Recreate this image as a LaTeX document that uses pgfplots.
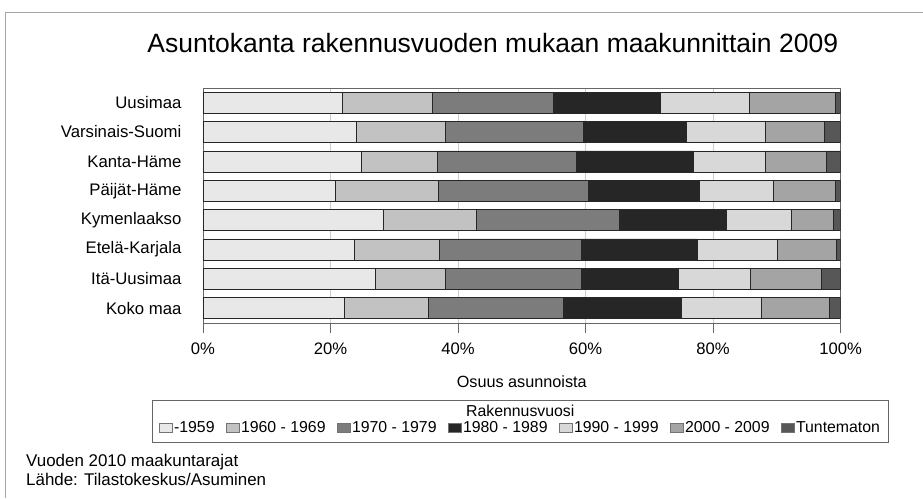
\documentclass[border=0pt]{standalone}
\usepackage{pgfplots}
\usepackage{pgfplotstable}
\pgfplotsset{compat=1.18}
\usepackage{fontspec}
\setmainfont{Liberation Sans}

\definecolor{cA}{HTML}{E8E8E8}
\definecolor{cB}{HTML}{C2C2C2}
\definecolor{cC}{HTML}{7C7C7C}
\definecolor{cD}{HTML}{262626}
\definecolor{cE}{HTML}{D8D8D8}
\definecolor{cF}{HTML}{A4A4A4}
\definecolor{cG}{HTML}{575757}

% share of dwellings (%) by construction year, per region
\pgfplotstableread{
idx a b c d e f g
0 21.9 14.1 19.0 16.7 13.9 13.6 0.8
1 24.1 13.9 21.7 16.1 12.3 9.4 2.5
2 24.9 11.9 21.8 18.3 11.2 9.7 2.2
3 20.7 16.2 23.6 17.4 11.5 9.8 0.8
4 28.3 14.5 22.5 16.8 10.2 6.6 1.1
5 23.7 13.3 22.4 18.1 12.5 9.3 0.7
6 27.0 11.0 21.4 15.2 11.3 11.1 3.0
7 22.1 13.2 21.2 18.5 12.5 10.7 1.8
}\datatable

\pgfplotsset{
  seg/.style={fill=#1, draw=black!85, line width=0.5pt,
    legend image code/.code={\draw[##1, draw=gray!90!black] (0bp,-4.5bp) rectangle (13bp,5bp);}},
}

\begin{document}
\begin{tikzpicture}
\begin{axis}[
  xbar stacked,
  scale only axis,
  width=638bp, height=235bp,
  bar width=21bp,
  xmin=0, xmax=100,
  ymin=-0.5, ymax=7.5,
  y dir=reverse,
  ytick={0,...,7},
  yticklabels={Uusimaa,Varsinais-Suomi,Kanta-Häme,Päijät-Häme,Kymenlaakso,Etelä-Karjala,Itä-Uusimaa,Koko maa},
  ytick style={draw=none},
  yticklabel style={font=\fontsize{16.8}{18}\selectfont, xshift=-8bp},
  xtick={0,20,40,60,80,100},
  xticklabels={0\%,20\%,40\%,60\%,80\%,100\%},
  xtick pos=bottom,
  tick align=outside,
  major tick length=10bp,
  xtick style={gray!80!black, line width=0.6pt},
  xticklabel style={font=\fontsize{16.7}{18}\selectfont, yshift=-7bp},
  xmajorgrids,
  grid style={gray!40, line width=0.5pt},
  axis line style={gray!80!black, line width=0.6pt},
  xlabel={Osuus asunnoista},
  xlabel style={font=\fontsize{16.3}{18}\selectfont, at={(axis description cs:0.5,-0.251)}, anchor=center},
  legend columns=-1,
  legend style={draw=none, fill=none, at={(axis description cs:0.4977,-0.447)}, anchor=center,
    font=\fontsize{15.9}{18}\selectfont,
    nodes={inner sep=1.5bp},
    /tikz/every even column/.append style={column sep=10bp}},
  /pgf/number format/assume math mode=true,
]
\addplot+[seg=cA] table[x=a, y=idx] {\datatable};
\addplot+[seg=cB] table[x=b, y=idx] {\datatable};
\addplot+[seg=cC] table[x=c, y=idx] {\datatable};
\addplot+[seg=cD] table[x=d, y=idx] {\datatable};
\addplot+[seg=cE] table[x=e, y=idx] {\datatable};
\addplot+[seg=cF] table[x=f, y=idx] {\datatable};
\addplot+[seg=cG] table[x=g, y=idx] {\datatable};
\legend{-1959,1960 - 1969,1970 - 1979,1980 - 1989,1990 - 1999,2000 - 2009,Tuntematon}
\end{axis}
% legend frame and title
\draw[gray!80!black, line width=0.6pt] (-51bp,-77bp) rectangle (686bp,-119bp);
\node[font=\fontsize{15.9}{18}\selectfont] at (317.5bp,-88bp) {Rakennusvuosi};
% title
\node[font=\fontsize{26.6}{30}\selectfont] at (290bp,280bp) {Asuntokanta rakennusvuoden mukaan maakunnittain 2009};
% footer
\node[anchor=west, inner sep=0pt, font=\fontsize{17}{18}\selectfont] at (-177bp,-139bp) {Vuoden 2010 maakuntarajat};
\node[anchor=west, inner sep=0pt, font=\fontsize{17}{18}\selectfont] at (-177bp,-157bp) {Lähde: Tilastokeskus/Asuminen};
% outer frame (partly cut)
\draw[gray!70, line width=0.8pt] (-198bp,-175bp) -- (-198bp,311bp) -- (720bp,311bp);
\useasboundingbox (-203bp,-175bp) rectangle (720bp,323bp);
\end{tikzpicture}
\end{document}
